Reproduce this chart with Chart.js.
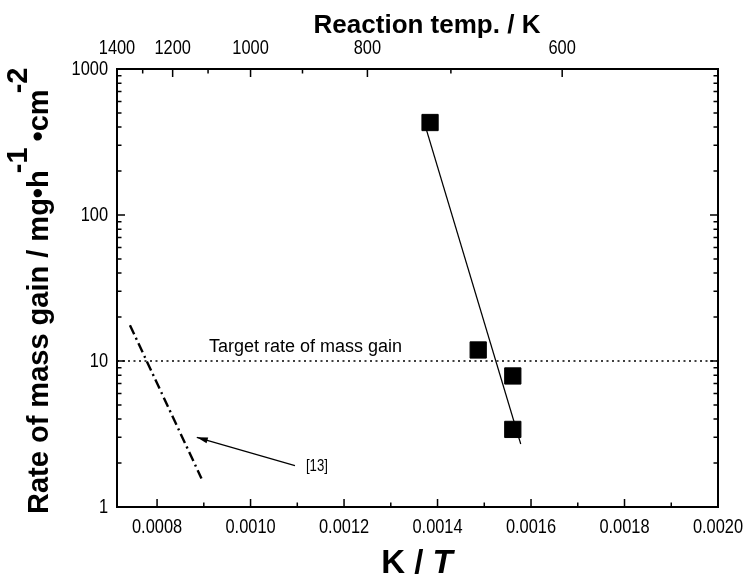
<!DOCTYPE html>
<html>
<head>
<meta charset="utf-8">
<script src="https://cdn.jsdelivr.net/npm/chart.js@4.4.1/dist/chart.umd.min.js"></script>
<style>
    html, body { margin: 0; padding: 0; background: #ffffff; }
    #wrap { width: 747px; height: 581px; }
</style>
</head>
<body>
<div id="wrap"><canvas id="massGainChart" width="747" height="581"></canvas></div>
<script>
/*
  Rate of mass gain vs. K/T (Arrhenius plot), top axis in reaction temperature
*/

const X_MIN = 1 / 1400;
const X_MAX = 0.0020;
const Y_MIN = 1;
const Y_MAX = 1000;

// axis ticks
const bottomMajorTicks = [0.0008, 0.0010, 0.0012, 0.0014, 0.0016, 0.0018, 0.0020];
const bottomMinorTicks = [0.0009, 0.0011, 0.0013, 0.0015, 0.0017, 0.0019];
const topMajorTemps = [1400, 1200, 1000, 800, 600];
const topMinorTemps = [1300, 1100, 900, 700];
const yMajorTicks = [1, 10, 100, 1000];
const yMinorTicks = [2, 3, 4, 5, 6, 7, 8, 9, 20, 30, 40, 50, 60, 70, 80, 90, 200, 300, 400, 500, 600, 700, 800, 900];

// measured points
const measuredX = [0.001384, 0.001487, 0.001561, 0.001561];
const measuredY = [430, 11.9, 7.9, 3.4];

// fitted line through the measured points
const fitX = [0.001373, 0.001578];
const fitY = [415, 2.7];

// target rate of mass gain
const targetX = [X_MIN, X_MAX];
const targetY = [10, 10];

// literature line [13]
const refX = [0.000742, 0.000895];
const refY = [17.6, 1.57];

// arrow from the "[13]" label to the literature line (tail, head)
const arrowX = [0.001095, 0.000885];
const arrowY = [1.92, 3.0];

const SANS = "'Liberation Sans', Arial, sans-serif";
const TICK_FONT = "20px " + SANS;
const SQUEEZE = 0.82;   // the original tick labels use a narrow face

function toPoints(xs, ys) {
    return xs.map((x, i) => ({ x: x, y: ys[i] }));
}

function narrowText(ctx, text, x, y, align) {
    ctx.save();
    ctx.translate(x, y);
    ctx.scale(SQUEEZE, 1);
    ctx.textAlign = align;
    ctx.fillText(text, 0, 0);
    ctx.restore();
}

const framePlugin = {
    id: "frameAndTitles",
    afterDraw(chart) {
        const ctx = chart.ctx;
        const area = chart.chartArea;
        const sx = chart.scales.x;
        const sy = chart.scales.y;

        ctx.save();
        ctx.strokeStyle = "#000";
        ctx.fillStyle = "#000";

        // inward tick marks
        ctx.lineWidth = 1.5;
        ctx.beginPath();
        const tickX = (v, len) => {
            const px = sx.getPixelForValue(v);
            ctx.moveTo(px, area.bottom);
            ctx.lineTo(px, area.bottom - len);
        };
        bottomMajorTicks.forEach(v => tickX(v, 8));
        bottomMinorTicks.forEach(v => tickX(v, 4.5));

        const tickTop = (t, len) => {
            const px = sx.getPixelForValue(1 / t);
            ctx.moveTo(px, area.top);
            ctx.lineTo(px, area.top + len);
        };
        topMajorTemps.forEach(t => tickTop(t, 8));
        topMinorTemps.forEach(t => tickTop(t, 4.5));

        const tickY = (v, len) => {
            const py = sy.getPixelForValue(v);
            ctx.moveTo(area.left, py);
            ctx.lineTo(area.left + len, py);
            ctx.moveTo(area.right, py);
            ctx.lineTo(area.right - len, py);
        };
        yMajorTicks.forEach(v => tickY(v, 8));
        yMinorTicks.forEach(v => tickY(v, 4.5));
        ctx.stroke();

        // frame
        ctx.lineWidth = 2;
        ctx.strokeRect(area.left, area.top, area.right - area.left, area.bottom - area.top);

        // tick labels
        ctx.font = TICK_FONT;
        ctx.textBaseline = "middle";
        bottomMajorTicks.forEach(v => narrowText(ctx, v.toFixed(4), sx.getPixelForValue(v), area.bottom + 20, "center"));
        topMajorTemps.forEach(t => narrowText(ctx, String(t), sx.getPixelForValue(1 / t), area.top - 21, "center"));
        yMajorTicks.forEach(v => narrowText(ctx, String(v), area.left - 9, sy.getPixelForValue(v), "right"));

        // arrow head
        const tx = sx.getPixelForValue(arrowX[0]);
        const ty = sy.getPixelForValue(arrowY[0]);
        const hx = sx.getPixelForValue(arrowX[1]);
        const hy = sy.getPixelForValue(arrowY[1]);
        const ang = Math.atan2(hy - ty, hx - tx);
        ctx.beginPath();
        ctx.moveTo(hx, hy);
        ctx.lineTo(hx - 11 * Math.cos(ang) + 3 * Math.sin(ang), hy - 11 * Math.sin(ang) - 3 * Math.cos(ang));
        ctx.lineTo(hx - 11 * Math.cos(ang) - 3 * Math.sin(ang), hy - 11 * Math.sin(ang) + 3 * Math.cos(ang));
        ctx.closePath();
        ctx.fill();

        // annotations
        ctx.textBaseline = "alphabetic";
        ctx.font = "18px " + SANS;
        ctx.textAlign = "left";
        ctx.fillText("Target rate of mass gain", sx.getPixelForValue(0.000911), sy.getPixelForValue(10) - 9);
        ctx.font = "16px " + SANS;
        ctx.textBaseline = "middle";
        narrowText(ctx, "[13]", tx + 11, ty + 1, "left");

        // top axis title
        ctx.textAlign = "center";
        ctx.textBaseline = "middle";
        ctx.font = "bold 26px " + SANS;
        ctx.fillText("Reaction temp. / K", 427, 26);

        // bottom axis title "K / T" with italic T
        ctx.textAlign = "left";
        const kPart = "K / ";
        ctx.font = "bold 33px " + SANS;
        const kw = ctx.measureText(kPart).width;
        ctx.font = "italic bold 33px " + SANS;
        const tw = ctx.measureText("T").width;
        const startX = 417 - (kw + tw) / 2;
        ctx.font = "bold 33px " + SANS;
        ctx.fillText(kPart, startX, 564);
        ctx.font = "italic bold 33px " + SANS;
        ctx.fillText("T", startX + kw, 564);

        // left axis title with superscripts
        ctx.translate(48, 514);
        ctx.rotate(-Math.PI / 2);
        ctx.textBaseline = "alphabetic";
        ctx.font = "bold 29px " + SANS;
        const parts = [
            { t: "Rate of mass gain / mg\u2022h", up: 0, shift: 0 },
            { t: "-1", up: 21, shift: -3 },
            { t: " \u2022cm", up: 0, shift: -2 },
            { t: "-2", up: 21, shift: -4 }
        ];
        let pos = 0;
        parts.forEach(p => {
            pos += p.shift;
            ctx.fillText(p.t, pos, -p.up);
            pos += ctx.measureText(p.t).width;
        });

        ctx.restore();
    }
};

const hiddenTicks = { display: false };

new Chart(document.getElementById("massGainChart"), {
    type: "scatter",
    data: {
        datasets: [
            {
                label: "Measured",
                data: toPoints(measuredX, measuredY),
                pointStyle: "rect",
                pointRadius: 11.5,
                pointBorderWidth: 1,
                backgroundColor: "#000000",
                borderColor: "#000000"
            },
            {
                label: "Fit",
                data: toPoints(fitX, fitY),
                showLine: true,
                pointRadius: 0,
                borderColor: "#000000",
                borderWidth: 1.2
            },
            {
                label: "Target rate of mass gain",
                data: toPoints(targetX, targetY),
                showLine: true,
                pointRadius: 0,
                borderColor: "#000000",
                borderWidth: 1.5,
                borderDash: [2, 3.5]
            },
            {
                label: "[13]",
                data: toPoints(refX, refY),
                showLine: true,
                pointRadius: 0,
                borderColor: "#000000",
                borderWidth: 2.4,
                borderDash: [10, 4, 2, 4]
            },
            {
                label: "Arrow",
                data: toPoints(arrowX, arrowY),
                showLine: true,
                pointRadius: 0,
                borderColor: "#000000",
                borderWidth: 1.2
            }
        ]
    },
    options: {
        responsive: false,
        animation: false,
        layout: {
            padding: { top: 0, left: 0, right: 29, bottom: 0 }
        },
        plugins: {
            legend: { display: false },
            tooltip: { enabled: false }
        },
        scales: {
            x: {
                type: "linear",
                position: "bottom",
                min: X_MIN,
                max: X_MAX,
                afterBuildTicks: s => { s.ticks = bottomMajorTicks.map(v => ({ value: v })); },
                afterFit: s => { s.height = 74; s.paddingLeft = 0; s.paddingRight = 0; },
                grid: { display: false, drawTicks: false },
                border: { display: false },
                ticks: hiddenTicks
            },
            x2: {
                type: "linear",
                position: "top",
                min: X_MIN,
                max: X_MAX,
                afterBuildTicks: s => { s.ticks = topMajorTemps.map(t => ({ value: 1 / t })); },
                afterFit: s => { s.height = 69; s.paddingLeft = 0; s.paddingRight = 0; },
                grid: { display: false, drawTicks: false },
                border: { display: false },
                ticks: hiddenTicks
            },
            y: {
                type: "logarithmic",
                position: "left",
                min: Y_MIN,
                max: Y_MAX,
                afterBuildTicks: s => { s.ticks = yMajorTicks.map(v => ({ value: v })); },
                afterFit: s => { s.width = 117; },
                grid: { display: false, drawTicks: false },
                border: { display: false },
                ticks: hiddenTicks
            }
        }
    },
    plugins: [framePlugin]
});
</script>
</body>
</html>
